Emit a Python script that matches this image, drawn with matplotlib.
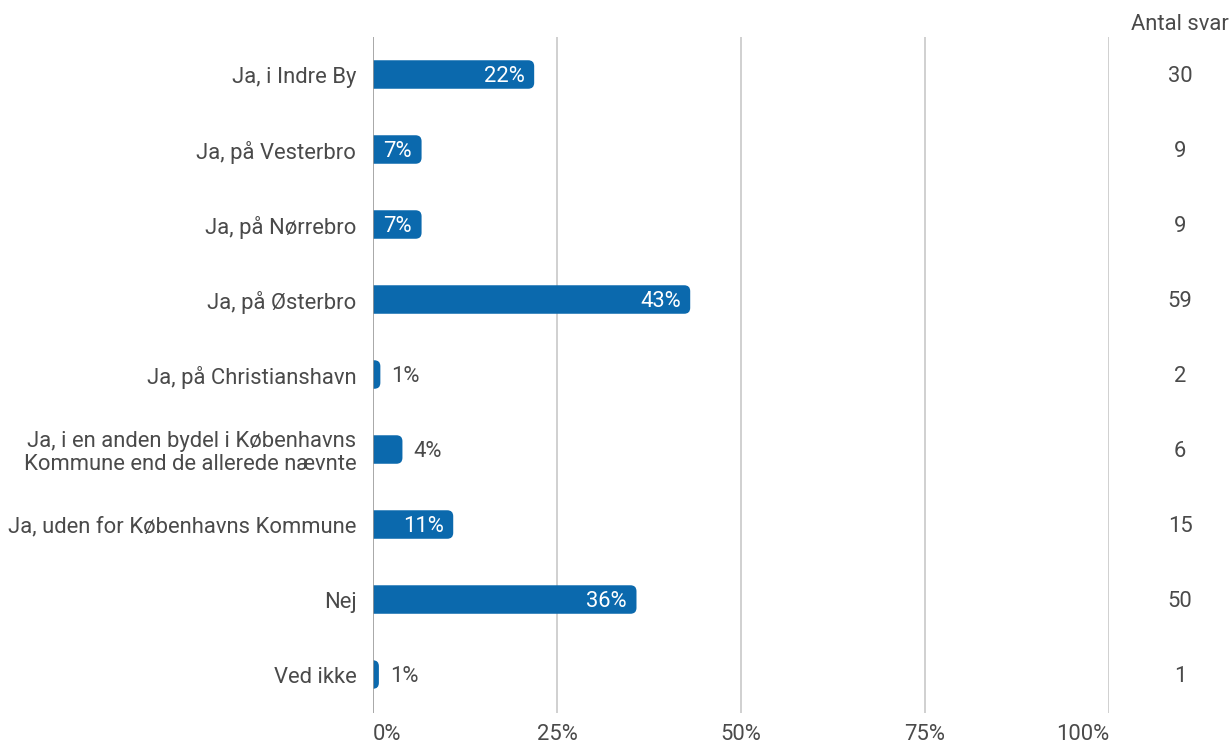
import matplotlib
matplotlib.use('Agg')
import matplotlib.pyplot as plt
from matplotlib.patches import FancyBboxPatch

plt.rcParams['font.family'] = ['Roboto', 'DejaVu Sans']

# Data
categories = ['Ja, i Indre By', 'Ja, på Vesterbro', 'Ja, på Nørrebro', 'Ja, på Østerbro',
              'Ja, på Christianshavn',
              'Ja, i en anden bydel i Københavns\nKommune end de allerede nævnte',
              'Ja, uden for Københavns Kommune', 'Nej', 'Ved ikke']
shares = [21.9, 6.6, 6.6, 43.1, 1.0, 4.0, 10.9, 35.8, 0.8]
pct_labels = ['22%', '7%', '7%', '43%', '1%', '4%', '11%', '36%', '1%']
antal = [30, 9, 9, 59, 2, 6, 15, 50, 1]
xticks = [0, 25, 50, 75, 100]

bar_color = '#0b69ad'
text_color = '#4a4a4a'
grid_color = '#c8c8c8'
fs = 15.8
dy = 0.03  # nudge digit labels down a little, they have no descenders

fig = plt.figure(figsize=(12.31, 7.43), dpi=100)
ax = fig.add_axes([373 / 1231, 30 / 743, 736 / 1231, 676 / 743])
ax.set_xlim(0, 100)
ax.set_ylim(len(categories) - 0.487, -0.5)

# px per data unit, used to keep the corner rounding circular
px_x = 736 / 100
px_y = 75
bar_h = 0.38

for i, (v, lab) in enumerate(zip(shares, pct_labels)):
    r = min(6 / px_x, v)
    # start left of zero so the left corners are clipped away
    patch = FancyBboxPatch((-r, i - bar_h / 2), v + r, bar_h,
                           boxstyle='round,pad=0,rounding_size=%f' % r,
                           mutation_aspect=px_x / px_y,
                           fc=bar_color, ec='none', zorder=3)
    ax.add_patch(patch)
    if v >= 5:
        ax.text(v - 1.3, i + dy, lab, ha='right', va='center', color='white', fontsize=fs, zorder=4)
    else:
        ax.text(v + 1.5, i + dy, lab, ha='left', va='center', color=text_color, fontsize=fs, zorder=4)

for x in xticks[1:]:
    ax.axvline(x, color=grid_color, lw=1.2, zorder=1)
ax.axvline(0, color='#999999', lw=1.2, zorder=5)

ax.set_yticks(range(len(categories)))
ax.set_yticklabels(categories, fontsize=fs, color=text_color, linespacing=1.15)
ax.set_xticks(xticks)
ax.set_xticklabels(['%d%%' % x for x in xticks], fontsize=fs, color=text_color)
xl = ax.get_xticklabels()
xl[0].set_ha('left')
xl[-1].set_ha('right')
ax.tick_params(length=0)
ax.tick_params(axis='y', pad=12)
ax.tick_params(axis='x', pad=8)
for s in ax.spines.values():
    s.set_visible(False)

# Antal svar column
col_x = (1180 - 373) / 736
ax.text(col_x, 1 + 13 / 676, 'Antal svar', transform=ax.transAxes, ha='center', va='center',
        fontsize=fs, color=text_color)
for i, n in enumerate(antal):
    ax.text(col_x, i + dy, str(n), transform=ax.get_yaxis_transform(), ha='center', va='center',
            fontsize=fs, color=text_color)

fig.savefig('out.png', dpi=100)
